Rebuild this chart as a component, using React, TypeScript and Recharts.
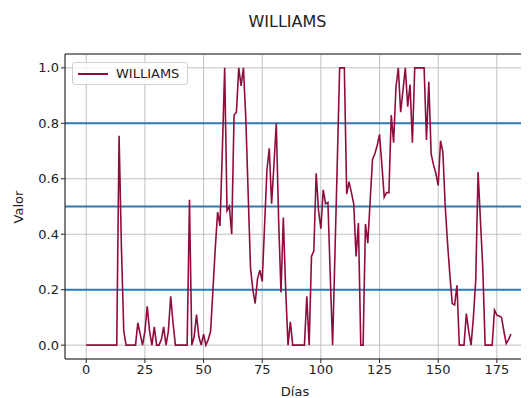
import { LineChart, Line, XAxis, YAxis, CartesianGrid, ReferenceLine } from "recharts";

// Williams %R por día (0..181)
const williams: number[] = [
  0, 0, 0, 0, 0, 0, 0, 0, 0, 0,
  0, 0, 0, 0, 0.755, 0.35, 0.05, 0, 0, 0,
  0, 0, 0.08, 0.04, 0, 0.05, 0.14, 0.05, 0, 0.066,
  0, 0, 0.02, 0.066, 0, 0.05, 0.176, 0.08, 0, 0,
  0, 0, 0, 0, 0.524, 0, 0.03, 0.11, 0.03, 0,
  0.04, 0, 0.02, 0.05, 0.2, 0.35, 0.48, 0.43, 0.7, 1.0,
  0.485, 0.5, 0.4, 0.83, 0.84, 1.0, 0.935, 1.0, 0.82, 0.55,
  0.28, 0.2, 0.15, 0.24, 0.27, 0.23, 0.43, 0.63, 0.71, 0.51,
  0.65, 0.8, 0.45, 0.19, 0.46, 0.2, 0, 0.084, 0, 0,
  0, 0, 0, 0, 0.176, 0, 0.32, 0.34, 0.62, 0.485,
  0.42, 0.56, 0.51, 0.515, 0.25, 0, 0.33, 0.66, 1.0, 1.0,
  1.0, 0.545, 0.59, 0.55, 0.51, 0.32, 0.44, 0, 0, 0.437,
  0.368, 0.52, 0.67, 0.69, 0.72, 0.76, 0.65, 0.534, 0.55, 0.55,
  0.83, 0.73, 0.93, 1.0, 0.84, 0.92, 1.0, 0.86, 0.94, 0.73,
  1.0, 1.0, 1.0, 1.0, 1.0, 0.74, 0.95, 0.69, 0.65, 0.62,
  0.576, 0.737, 0.696, 0.5, 0.366, 0.25, 0.15, 0.145, 0.216, 0,
  0, 0, 0.114, 0.05, 0, 0.1, 0.234, 0.624, 0.45, 0.28,
  0, 0, 0, 0, 0.126, 0.108, 0.105, 0.1, 0.05, 0.006,
  0.02, 0.04,
];

const xTicks = [0, 25, 50, 75, 100, 125, 150, 175];
const yTicks = [0, 0.2, 0.4, 0.6, 0.8, 1.0];
const levels = [0.2, 0.5, 0.8];

const data = williams.map((v, i) => ({ dia: i, williams: v }));

const font = "'DejaVu Sans', sans-serif";
const lineColor = "#900C3F";

export default function App() {
  return (
    <div style={{ position: "relative", width: 521, height: 390, fontFamily: font }}>
      <div
        style={{
          position: "absolute",
          top: 4,
          left: 0,
          width: 559,
          textAlign: "center",
          fontSize: 16,
          color: "#222",
        }}
      >
        WILLIAMS
      </div>
      <div
        style={{
          position: "absolute",
          left: 10,
          top: 199,
          transform: "translate(-50%, -50%) rotate(-90deg)",
          fontSize: 13,
          color: "#222",
        }}
      >
        Valor
      </div>
      <div
        style={{
          position: "absolute",
          top: 376,
          left: 0,
          width: 574,
          textAlign: "center",
          fontSize: 13,
          color: "#222",
        }}
      >
        Días
      </div>
      <LineChart
        width={521}
        height={390}
        data={data}
        margin={{ top: 46, right: 0, left: 0, bottom: 0 }}
      >
        <CartesianGrid stroke="#b0b0b0" strokeWidth={0.8} />
        <XAxis
          dataKey="dia"
          type="number"
          domain={[-9.05, 188.7]}
          ticks={xTicks}
          allowDataOverflow
          height={39}
          tickSize={4}
          tick={{ fill: "#222", fontSize: 13, fontFamily: font }}
          tickLine={{ stroke: "#222" }}
          axisLine={{ stroke: "#222" }}
        />
        <YAxis
          type="number"
          domain={[-0.05, 1.05]}
          ticks={yTicks}
          width={57}
          tickSize={4}
          tickFormatter={(v: number) => v.toFixed(1)}
          tick={{ fill: "#222", fontSize: 13, fontFamily: font }}
          tickLine={{ stroke: "#222" }}
          axisLine={{ stroke: "#222" }}
        />
        <ReferenceLine y={1.05} stroke="#222" strokeWidth={1} />
        {levels.map((l) => (
          <ReferenceLine key={l} y={l} stroke="#2e7bb4" strokeWidth={2} />
        ))}
        <Line
          type="linear"
          dataKey="williams"
          stroke={lineColor}
          strokeWidth={1.6}
          dot={false}
          isAnimationActive={false}
        />
      </LineChart>
      {/* legend, upper left like matplotlib */}
      <div
        style={{
          position: "absolute",
          top: 54,
          left: 64,
          border: "1px solid #d0d0d0",
          borderRadius: 3,
          background: "rgba(255,255,255,0.8)",
          padding: "3px 8px 3px 5px",
          display: "flex",
          alignItems: "center",
          gap: 8,
          fontSize: 13,
          color: "#222",
        }}
      >
        <div style={{ width: 30, height: 2, background: lineColor }}></div>
        <span>WILLIAMS</span>
      </div>
    </div>
  );
}
